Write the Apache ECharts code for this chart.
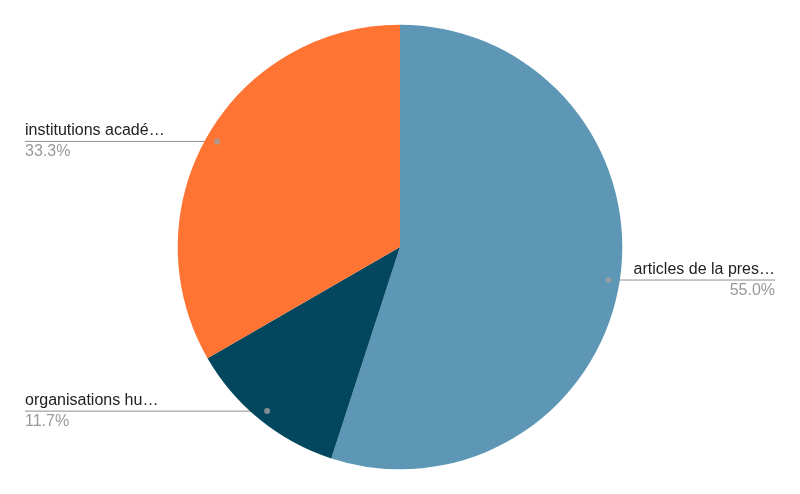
<!DOCTYPE html>
<html>
<head>
<meta charset="utf-8">
<script src="https://cdn.jsdelivr.net/npm/echarts@6/dist/echarts.min.js"></script>
<style>
  html, body { margin: 0; padding: 0; background: #fff; }
  #chart { width: 800px; height: 494px; }
</style>
</head>
<body>
<div id="chart"></div>
<script>
// catégories et valeurs (comptes), dans l'ordre horaire depuis midi
const categories = ['articles de la presse', 'organisations humanitaires', 'institutions académiques'];
const shortLabels = ['articles de la pres…', 'organisations hu…', 'institutions acadé…'];
const values = [33, 7, 20];
const colors = ['#5D97B5', '#03475F', '#FF7433'];

const total = values.reduce((a, b) => a + b, 0);
const DOT_R = 0.95; // point du trait de légende, en fraction du rayon

// milieu angulaire de chaque part (en unités de valeur) pour les petits points
const mids = [];
let acc = 0;
values.forEach(v => { mids.push([DOT_R, acc + v / 2]); acc += v; });

const chartDom = document.getElementById('chart');
const chart = echarts.init(chartDom);

const EDGE = 25; // marge gauche/droite des étiquettes

chart.setOption({
  animation: false,
  color: colors,
  polar: { center: ['50%', '50%'], radius: '90%' },
  angleAxis: {
    type: 'value', min: 0, max: total, startAngle: 90, clockwise: true,
    show: false
  },
  radiusAxis: { type: 'value', min: 0, max: 1, show: false },
  series: [
    {
      type: 'pie',
      center: ['50%', '50%'],
      radius: '90%',
      startAngle: 90,
      clockwise: true,
      silent: true,
      itemStyle: { borderWidth: 0 },
      data: categories.map((c, i) => ({ name: c, value: values[i] })),
      label: {
        show: true,
        formatter: p => '{n|' + shortLabels[p.dataIndex] + '}\n{p|' + p.percent.toFixed(1) + '%}',
        rich: {
          n: { fontFamily: 'Liberation Sans, Arial, sans-serif', fontSize: 16, color: '#222', lineHeight: 21 },
          p: { fontFamily: 'Liberation Sans, Arial, sans-serif', fontSize: 16, color: '#999', lineHeight: 21 }
        }
      },
      labelLine: {
        show: true, length: 10, length2: 10,
        lineStyle: { color: '#8f8f8f', width: 1 }
      },
      labelLayout: function (params) {
        const w = chart.getWidth(), h = chart.getHeight();
        const cx = w / 2, cy = h / 2;
        const pts = params.labelLinePoints;
        if (!pts) return {};
        const sx = cx + (pts[0][0] - cx) * DOT_R;
        const sy = cy + (pts[0][1] - cy) * DOT_R;
        const left = sx < cx;
        const ex = left ? EDGE : w - EDGE;
        return {
          x: ex,
          y: sy,
          align: left ? 'left' : 'right',
          verticalAlign: 'middle',
          labelLinePoints: [[sx, sy], [sx, sy], [ex, sy]]
        };
      }
    },
    {
      type: 'scatter',
      coordinateSystem: 'polar',
      silent: true,
      symbol: 'circle',
      symbolSize: 6,
      itemStyle: { color: '#a0a0a0' },
      data: mids,
      z: 10
    }
  ]
});
</script>
</body>
</html>
